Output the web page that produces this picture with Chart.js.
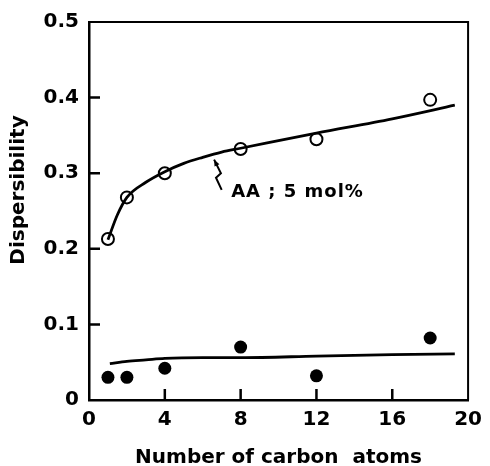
<!DOCTYPE html>
<html>
<head>
<meta charset="utf-8">
<script src="https://cdn.jsdelivr.net/npm/chart.js@4"></script>
<style>
  html, body { margin: 0; padding: 0; background: #fff; }
  #wrap { width: 490px; height: 466px; }
</style>
</head>
<body>
<div id="wrap"><canvas id="chart"></canvas></div>
<script>
// measured points
const carbonAtoms = [1, 2, 4, 8, 12, 18];
const dispersityOpen = [0.213, 0.268, 0.300, 0.332, 0.345, 0.397];
const dispersityFilled = [0.030, 0.030, 0.042, 0.070, 0.032, 0.082];

// hand drawn fit curves
const upperFitX = [1, 1.5, 2, 3, 4, 5, 6, 7, 8, 12, 16, 19.3];
const upperFitY = [0.212, 0.245, 0.268, 0.288, 0.302, 0.313, 0.321, 0.328, 0.333, 0.353, 0.372, 0.390];
const lowerFitX = [1.1, 2, 3, 4, 6, 8, 12, 16, 19.3];
const lowerFitY = [0.048, 0.051, 0.053, 0.055, 0.056, 0.056, 0.058, 0.060, 0.061];

// axes
const xTicks = [0, 4, 8, 12, 16, 20];
const yTicks = [0, 0.1, 0.2, 0.3, 0.4, 0.5];
const xTitle = 'Number of carbon  atoms';
const yTitle = 'Dispersibility';

// annotation
const noteText = 'AA ; 5 mol%';
const notePos = { x: 7.5, y: 0.275 };
const arrowX = [7.0, 6.7, 6.96, 6.6];
const arrowY = [0.278, 0.294, 0.300, 0.318];

const FONT = "'DejaVu Sans', sans-serif";

function pts(xs, ys) {
    return xs.map((x, i) => ({ x: x, y: ys[i] }));
}

const extras = {
    id: 'extras',
    afterDraw(chart) {
        const ctx = chart.ctx;
        const a = chart.chartArea;
        const xs = chart.scales.x;
        const ys = chart.scales.y;
        ctx.save();
        ctx.strokeStyle = '#000';
        // top and right sides of the frame
        ctx.lineWidth = 2;
        ctx.beginPath();
        ctx.moveTo(a.left, a.top);
        ctx.lineTo(a.right, a.top);
        ctx.lineTo(a.right, a.bottom);
        ctx.stroke();
        // inner ticks
        ctx.lineWidth = 2.5;
        ctx.beginPath();
        yTicks.slice(1, -1).forEach(v => {
            const py = ys.getPixelForValue(v);
            ctx.moveTo(a.left, py);
            ctx.lineTo(a.left + 11, py);
        });
        xTicks.slice(1, -1).forEach(v => {
            const px = xs.getPixelForValue(v);
            ctx.moveTo(px, a.bottom);
            ctx.lineTo(px, a.bottom - 11);
        });
        ctx.stroke();
        // y title
        ctx.fillStyle = '#000';
        ctx.font = 'bold 20px ' + FONT;
        ctx.textAlign = 'center';
        ctx.textBaseline = 'middle';
        ctx.translate(19, 190);
        ctx.rotate(-Math.PI / 2);
        ctx.fillText(yTitle, 0, 0);
        ctx.restore();

        // annotation with squiggly arrow
        ctx.save();
        ctx.fillStyle = '#000';
        ctx.strokeStyle = '#000';
        ctx.font = 'bold 18px ' + FONT;
        ctx.letterSpacing = '1px';
        ctx.textAlign = 'left';
        ctx.textBaseline = 'middle';
        ctx.fillText(noteText, xs.getPixelForValue(notePos.x), ys.getPixelForValue(notePos.y));
        ctx.lineWidth = 2;
        ctx.beginPath();
        arrowX.forEach((x, i) => {
            const px = xs.getPixelForValue(x), py = ys.getPixelForValue(arrowY[i]);
            if (i === 0) ctx.moveTo(px, py); else ctx.lineTo(px, py);
        });
        ctx.stroke();
        const n = arrowX.length;
        const hx = xs.getPixelForValue(arrowX[n - 1]), hy = ys.getPixelForValue(arrowY[n - 1]);
        const px = xs.getPixelForValue(arrowX[n - 2]), py = ys.getPixelForValue(arrowY[n - 2]);
        const ang = Math.atan2(hy - py, hx - px);
        ctx.beginPath();
        ctx.moveTo(hx, hy);
        ctx.lineTo(hx - 7 * Math.cos(ang - 0.4), hy - 7 * Math.sin(ang - 0.4));
        ctx.lineTo(hx - 7 * Math.cos(ang + 0.4), hy - 7 * Math.sin(ang + 0.4));
        ctx.closePath();
        ctx.fill();
        ctx.restore();
    }
};

const ctx = document.getElementById('chart').getContext('2d');
new Chart(ctx, {
    type: 'scatter',
    data: {
        datasets: [
            {
                type: 'line',
                data: pts(upperFitX, upperFitY),
                borderColor: '#000',
                borderWidth: 2.8,
                pointRadius: 0,
                cubicInterpolationMode: 'monotone',
                fill: false
            },
            {
                type: 'line',
                data: pts(lowerFitX, lowerFitY),
                borderColor: '#000',
                borderWidth: 2.8,
                pointRadius: 0,
                cubicInterpolationMode: 'monotone',
                fill: false
            },
            {
                data: pts(carbonAtoms, dispersityOpen),
                pointStyle: 'circle',
                pointRadius: 6,
                pointBackgroundColor: '#fff',
                pointBorderColor: '#000',
                pointBorderWidth: 2
            },
            {
                data: pts(carbonAtoms, dispersityFilled),
                pointStyle: 'circle',
                pointRadius: 6.5,
                pointBackgroundColor: '#000',
                pointBorderColor: '#000',
                pointBorderWidth: 0
            }
        ]
    },
    options: {
        responsive: true,
        maintainAspectRatio: false,
        animation: false,
        layout: { padding: { top: 16, right: 19, left: 0, bottom: 0 } },
        plugins: {
            legend: { display: false },
            tooltip: { enabled: false }
        },
        scales: {
            x: {
                type: 'linear',
                min: 0,
                max: 20,
                afterFit: s => { s.height = 66; },
                afterBuildTicks: s => { s.ticks = xTicks.map(v => ({ value: v })); },
                grid: { display: false, drawTicks: false },
                border: { display: true, color: '#000', width: 2.5 },
                ticks: {
                    color: '#000',
                    padding: 8,
                    font: { family: FONT, size: 20, weight: 'bold' }
                },
                title: {
                    display: true,
                    text: xTitle,
                    color: '#000',
                    padding: { top: 14, bottom: -4 },
                    font: { family: FONT, size: 20, weight: 'bold' }
                }
            },
            y: {
                type: 'linear',
                min: 0,
                max: 0.5,
                afterFit: s => { s.width = 89; },
                afterBuildTicks: s => { s.ticks = yTicks.map(v => ({ value: v })); },
                grid: { display: false, drawTicks: false },
                border: { display: true, color: '#000', width: 2.5 },
                ticks: {
                    color: '#000',
                    padding: 10,
                    font: { family: FONT, size: 20, weight: 'bold' },
                    callback: v => (v === 0 ? '0' : v.toFixed(1))
                }
            }
        }
    },
    plugins: [extras]
});
</script>
</body>
</html>
